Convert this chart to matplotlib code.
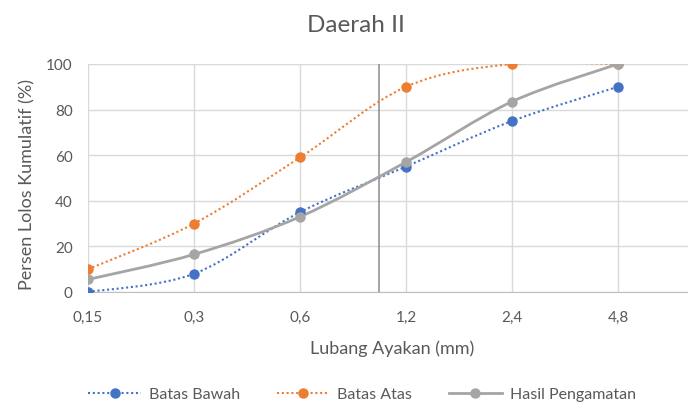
import numpy as np
import matplotlib.pyplot as plt
from matplotlib.path import Path
from matplotlib.patches import PathPatch
from matplotlib.lines import Line2D

plt.rcParams['font.family'] = ['Lato', 'DejaVu Sans']

ukuran = ["0,15", "0,3", "0,6", "1,2", "2,4", "4,8"]
batas_bawah = [0, 8, 35, 55, 75, 90]
batas_atas = [10, 30, 59, 90, 100, 100]
hasil = [5.5, 16.5, 33, 57, 83.5, 100]

BIRU = "#4472C4"
ORANYE = "#ED7D31"
ABU = "#A5A5A5"
TEKS = "#595959"
TITIK = (0, (1, 1.3))


def kurva_halus(x, y):
    # smoothed line: cubic bezier through every point
    p = np.column_stack([x, y]).astype(float)
    n = len(p)
    verts = [p[0]]
    codes = [Path.MOVETO]
    for i in range(n - 1):
        p0 = p[i - 1] if i > 0 else p[i]
        p3 = p[i + 2] if i + 2 < n else p[i + 1]
        c1 = p[i] + (p[i + 1] - p0) / 6
        c2 = p[i + 1] - (p3 - p[i]) / 6
        verts += [c1, c2, p[i + 1]]
        codes += [Path.CURVE4] * 3
    return Path(verts, codes)


fig = plt.figure(figsize=(6.88, 4.14), dpi=100)
ax = fig.add_axes([88 / 688, 1 - 293 / 414, 600 / 688, (293 - 65) / 414])

x = np.arange(len(ukuran))
seri = [
    (batas_bawah, BIRU, TITIK, 1.5),
    (batas_atas, ORANYE, TITIK, 1.5),
    (hasil, ABU, '-', 2.0),
]
for nilai, warna, gaya, lebar in seri:
    jalur = kurva_halus(x, nilai)
    ax.add_patch(PathPatch(jalur, fill=False, edgecolor=warna, lw=lebar,
                           linestyle=gaya, zorder=3))
    ax.plot(x, nilai, 'o', color=warna, ms=6.5, zorder=4)

ax.set_xlim(0, 600 / 106)
ax.set_ylim(0, 100)
ax.set_xticks(x)
ax.set_xticklabels(ukuran)
ax.set_yticks(range(0, 101, 20))
ax.tick_params(length=0, labelsize=11, colors=TEKS)
ax.tick_params(axis='y', pad=11)
ax.tick_params(axis='x', pad=13)
ax.grid(True, color="#D9D9D9", lw=1)
ax.set_axisbelow(True)
for s in ['top', 'right', 'left']:
    ax.spines[s].set_visible(False)
ax.spines['bottom'].set_color("#BFBFBF")
ax.axvline(2.745, color="#8C8C8C", lw=1.1, zorder=2)

fig.text(392 / 688, 1 - 349 / 414, "Lubang Ayakan (mm)", ha='center',
         va='center', fontsize=13, color=TEKS)
fig.text(27 / 688, 1 - 184 / 414, "Persen Lolos Kumulatif (%)", ha='center',
         va='center', rotation=90, fontsize=13, color=TEKS)
fig.text(356 / 688, 1 - 26 / 414, "Daerah II", ha='center', va='center',
         fontsize=17.5, color=TEKS)

handles = [
    Line2D([], [], color=BIRU, ls=TITIK, lw=1.5, marker='o', ms=6.5),
    Line2D([], [], color=ORANYE, ls=TITIK, lw=1.5, marker='o', ms=6.5),
    Line2D([], [], color=ABU, ls='-', lw=2, marker='o', ms=6.5),
]
fig.legend(handles, ["Batas Bawah", "Batas Atas", "Hasil Pengamatan"],
           loc='center', bbox_to_anchor=(362 / 688, 1 - 395 / 414), ncol=3,
           frameon=False, fontsize=11.5, labelcolor=TEKS, handlelength=3.3,
           columnspacing=2.3, handletextpad=0.5)

fig.savefig("out.png", dpi=100)
